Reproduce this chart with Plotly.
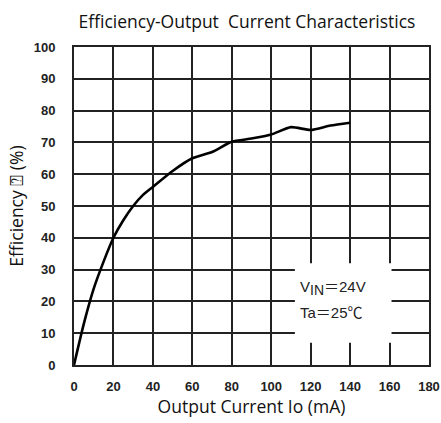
import plotly.graph_objects as go

current_ma = [0, 5, 10, 15, 20, 25, 30, 35, 40, 50, 60, 70, 80, 90, 100, 110, 120, 130, 140]
efficiency = [0, 13, 24, 32.5, 40, 45.5, 50, 53.5, 56, 61, 65, 67, 70.2, 71.2, 72.5, 74.8, 73.9, 75.3, 76.2]

x_ticks = [0, 20, 40, 60, 80, 100, 120, 140, 160, 180]
y_ticks = [0, 10, 20, 30, 40, 50, 60, 70, 80, 90, 100]

W, H = 441, 423

fig = go.Figure()
fig.add_trace(go.Scatter(x=current_ma, y=efficiency, mode="lines",
                         line=dict(color="black", width=2.6, shape="spline", smoothing=0.6),
                         showlegend=False, hoverinfo="skip"))

tickfont = dict(family="Liberation Sans, Arial", size=13, color="#222", weight="bold")
titlefont = dict(family="Open Sans", size=17.5, color="#111")
notefont = dict(family="Liberation Sans, Noto Sans CJK JP", size=15, color="#222")
fig.update_xaxes(range=[0, 180], tickvals=x_ticks, showgrid=True, gridcolor="#222", gridwidth=1.5,
                 showline=True, linecolor="#222", linewidth=2, mirror=True, zeroline=False,
                 ticks="", tickfont=tickfont, ticklabelstandoff=8, automargin=False,
                 ticklabeloverflow="allow",
                 title=dict(text="Output Current Io (mA)", font=titlefont, standoff=4))
fig.update_yaxes(range=[0, 100], tickvals=y_ticks, showgrid=True, gridcolor="#222", gridwidth=1.5,
                 showline=True, linecolor="#222", linewidth=2, mirror=True, zeroline=False,
                 ticks="", tickfont=tickfont, ticklabelstandoff=14, automargin=False,
                 title=dict(text="Efficiency \u2370 (%)", font=titlefont, standoff=6))

fig.add_shape(type="rect", xref="x", yref="y", x0=112, x1=161, y0=7, y1=32,
              fillcolor="white", line=dict(width=0), layer="between")
fig.add_annotation(x=113.5, y=24.3, xref="x", yref="y", xanchor="left", yanchor="middle",
                   text="V<sub><span style='font-size:14px'>IN</span></sub>\uff1d24V", showarrow=False,
                   font=notefont)
fig.add_annotation(x=113.5, y=16.5, xref="x", yref="y", xanchor="left", yanchor="middle",
                   text="Ta\uff1d25\u2103", showarrow=False, font=notefont)

fig.update_layout(
    width=W, height=H,
    margin=dict(l=74, r=12, t=47, b=58),
    paper_bgcolor="white", plot_bgcolor="white",
    title=dict(text="Efficiency-Output  Current Characteristics", x=247 / W, xanchor="center",
               y=1 - 22 / H, yanchor="middle", font=titlefont),
)

fig.write_html("out.html", config={"displayModeBar": False},
               post_script="document.body.style.margin='0';document.body.style.overflow='hidden';")
